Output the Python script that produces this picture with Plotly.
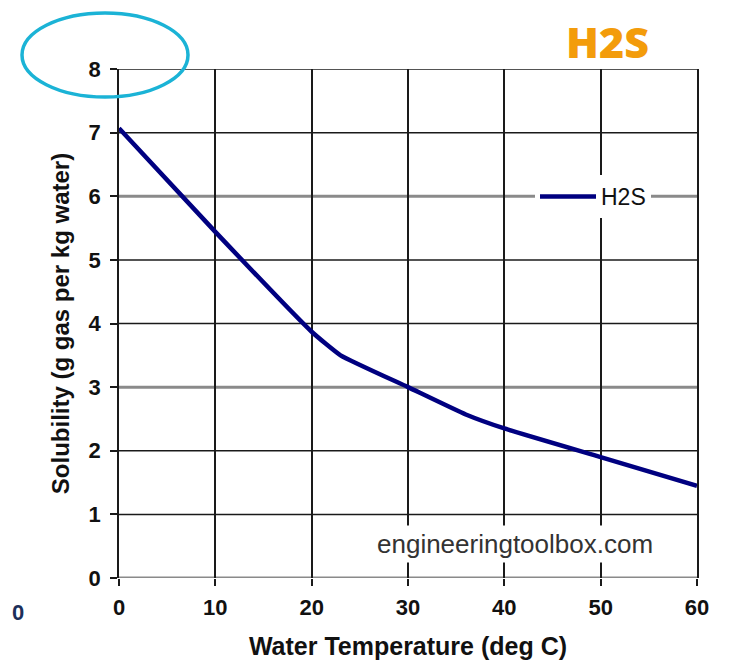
import plotly.graph_objects as go

# Data
temperature_c = [0, 10, 20, 23, 30, 36, 40, 50, 60]
solubility_g_per_kg = [7.07, 5.44, 3.87, 3.50, 3.00, 2.57, 2.35, 1.90, 1.45]
series_name = "H2S"
x_ticks = [0, 10, 20, 30, 40, 50, 60]
y_ticks = [0, 1, 2, 3, 4, 5, 6, 7, 8]
gray_levels = [0, 3, 6]
black_levels = [1, 2, 4, 5, 7, 8]

OFF = 8  # page body margin
W, H = 729 - OFF, 670 - OFF
L, R, T, B = 119 - OFF, 32, 69 - OFF, 92
pw, ph = W - L - R, H - T - B

def px(xp):
    return (xp - OFF - L) / pw

def py(yp):
    return (H - B - (yp - OFF)) / ph

fig = go.Figure()
fig.add_trace(go.Scatter(
    x=temperature_c, y=solubility_g_per_kg, mode="lines", name=series_name,
    line=dict(color="#000080", width=4.5, shape="spline", smoothing=0.4),
))

shapes = []
for lv in black_levels:
    shapes.append(dict(type="line", xref="paper", yref="y", x0=0, x1=1, y0=lv, y1=lv,
                       line=dict(color="#1a1a1a", width=1.5), layer="below"))
for lv in gray_levels:
    shapes.append(dict(type="line", xref="paper", yref="y", x0=0, x1=1, y0=lv, y1=lv,
                       line=dict(color="#8a8a8a", width=3), layer="below"))
# highlight ellipse around the top tick label
shapes.append(dict(type="circle", xref="paper", yref="paper",
                   x0=px(22), x1=px(188), y0=py(97), y1=py(13),
                   line=dict(color="#1BB3D6", width=3.5)))

FAM = "Liberation Sans, Arial, sans-serif"
tickfont = dict(family=FAM, size=22, color="#111", weight="bold")

fig.update_layout(
    width=W, height=H,
    margin=dict(l=L, r=R, t=T, b=B, autoexpand=False),
    paper_bgcolor="white", plot_bgcolor="white",
    showlegend=True,
    legend=dict(x=px(535), y=py(175), xanchor="left", yanchor="top",
                bgcolor="white", borderwidth=0, itemwidth=56,
                font=dict(family=FAM, size=23, color="#111")),
    xaxis=dict(range=[0, 60], tickvals=x_ticks, showgrid=True, gridcolor="#1a1a1a", gridwidth=1.5,
               zeroline=False, showline=False, ticks="outside", ticklen=7, tickcolor="#1a1a1a",
               tickwidth=1.5, tickfont=tickfont, ticklabelstandoff=3,
               title=dict(text="Water Temperature (deg C)",
                          font=dict(family=FAM, size=25, color="#111", weight="bold"), standoff=18)),
    yaxis=dict(range=[0, 8], tickvals=y_ticks, showgrid=False,
               zeroline=False, showline=True, linecolor="#1a1a1a", linewidth=1.5, mirror=True,
               ticks="outside", ticklen=7, tickcolor="#1a1a1a", tickwidth=1.5,
               tickfont=tickfont, ticklabelstandoff=5,
               title=dict(text="Solubility (g gas per kg water)",
                          font=dict(family=FAM, size=24, color="#111", weight="bold"), standoff=12)),
    shapes=shapes,
    annotations=[
        dict(text="engineeringtoolbox.com", xref="paper", yref="paper", x=px(515), y=py(544),
             xanchor="center", yanchor="middle",
             showarrow=False, bgcolor="white", borderpad=3,
             font=dict(family=FAM, size=26, color="#333")),
        dict(text="H2S", xref="paper", yref="paper", x=px(607), y=py(42),
             xanchor="center", yanchor="middle",
             showarrow=False, font=dict(family="Open Sans, sans-serif", size=43,
                                        color="#F39C0B", weight=800)),
        dict(text="0", xref="paper", yref="paper", x=px(10), y=py(612),
             xanchor="left", yanchor="middle",
             showarrow=False, font=dict(family=FAM, size=22, color="#1c2f5a", weight="bold")),
    ],
)

fig.write_html("out.html")
